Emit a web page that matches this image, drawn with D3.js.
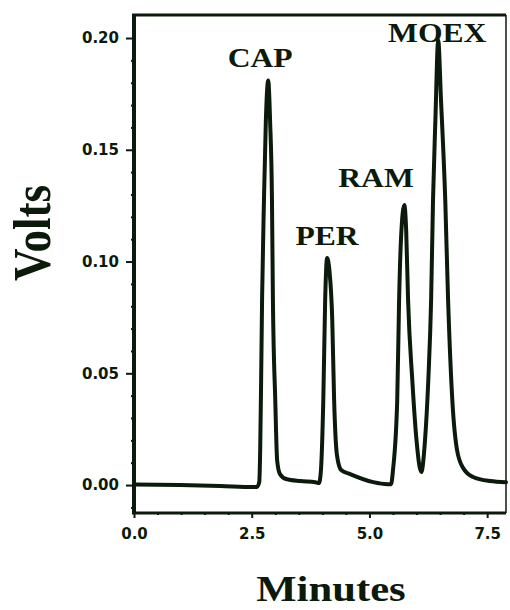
<!DOCTYPE html>
<html>
<head>
<meta charset="utf-8">
<script src="https://cdn.jsdelivr.net/npm/d3@7"></script>
<style>
  body { margin: 0; background: #fff; }
  .tick text { font-family: "DejaVu Sans", sans-serif; font-weight: bold; font-size: 15px; fill: #0b1a0b; }
  .tick line { stroke: #0b1a0b; stroke-width: 2; }
  .lbl { font-family: "Liberation Serif", "Times New Roman", serif; font-weight: bold; fill: #0b1a0b; }
</style>
</head>
<body>
<svg width="510" height="610"></svg>
<script>
// chromatogram trace (minutes, volts)
var times = [0.00, 0.98, 1.83, 2.53, 2.61, 2.66, 2.68, 2.70, 2.72, 2.76, 2.80, 2.85, 2.89, 2.93, 2.95, 3.00, 3.04, 3.10, 3.23, 3.53, 3.85,
             3.93, 3.97, 4.02, 4.06, 4.10, 4.15, 4.21, 4.25, 4.31, 4.40, 4.59, 5.08, 5.38,
             5.46, 5.50, 5.59, 5.63, 5.67, 5.74, 5.78, 5.82, 5.91, 6.00, 6.10,
             6.18, 6.25, 6.31, 6.35, 6.40, 6.46, 6.52, 6.61, 6.67, 6.76, 6.86, 6.99, 7.20, 7.56, 7.90];
var volts = [0.0002, 0.0000, -0.0004, -0.0009, -0.0009, 0.0013, 0.016, 0.047, 0.083, 0.1275, 0.163, 0.181, 0.163, 0.1275, 0.083, 0.038, 0.011, 0.0049, 0.0027, 0.0018, 0.0013,
             0.0009, 0.0067, 0.038, 0.083, 0.1016, 0.096, 0.074, 0.038, 0.0134, 0.0067, 0.0049, 0.0013, 0.0004,
             0.0004, 0.0067, 0.038, 0.083, 0.110, 0.1253, 0.114, 0.083, 0.047, 0.020, 0.0058,
             0.020, 0.047, 0.083, 0.1275, 0.163, 0.199, 0.172, 0.1275, 0.083, 0.038, 0.0157, 0.0076, 0.0036, 0.0018, 0.0013];

var peakNames = ["CAP", "PER", "RAM", "MOEX"];
var labelTimes = [2.68, 4.10, 5.14, 6.44];
var labelVolts = [0.187, 0.1074, 0.1333, 0.1982];

var yMajor = [0.00, 0.05, 0.10, 0.15, 0.20];
var yMinor = [-0.01, 0.01, 0.02, 0.03, 0.04, 0.06, 0.07, 0.08, 0.09, 0.11, 0.12, 0.13, 0.14, 0.16, 0.17, 0.18, 0.19];
var xMajor = [0.0, 2.5, 5.0, 7.5];
var xMinor = [0.5, 1.0, 1.5, 2.0, 3.0, 3.5, 4.0, 4.5, 5.5, 6.0, 6.5, 7.0];

var svg = d3.select("svg"),
    ink = "#0b1a0b";

var x = d3.scaleLinear().domain([0, 7.9]).range([134, 506]);
var y = d3.scaleLinear().domain([-0.0125, 0.2103]).range([513, 15]);

// axes
svg.append("g")
    .attr("transform", "translate(134,0)")
    .call(d3.axisLeft(y).tickValues(yMinor).tickSize(3).tickFormat(""))
    .call(function(g) { g.select(".domain").remove(); });
svg.append("g")
    .attr("transform", "translate(134,0)")
    .call(d3.axisLeft(y).tickValues(yMajor).tickSize(8).tickPadding(7).tickFormat(d3.format(".2f")))
    .call(function(g) { g.select(".domain").remove(); });

svg.append("g")
    .attr("transform", "translate(0,513)")
    .call(d3.axisBottom(x).tickValues(xMinor).tickSize(2).tickFormat(""))
    .call(function(g) { g.select(".domain").remove(); });
svg.append("g")
    .attr("transform", "translate(0,513)")
    .call(d3.axisBottom(x).tickValues(xMajor).tickSize(5).tickPadding(10).tickFormat(d3.format(".1f")))
    .call(function(g) { g.select(".domain").remove(); });

// frame
var frame = [
  [134, 15, 134, 513, 4],
  [132, 513, 506, 513, 3],
  [132, 15, 506, 15, 3],
  [506, 15, 506, 513, 1.5]
];
svg.append("g").selectAll("line")
    .data(frame)
  .enter().append("line")
    .attr("x1", function(d) { return d[0]; })
    .attr("y1", function(d) { return d[1]; })
    .attr("x2", function(d) { return d[2]; })
    .attr("y2", function(d) { return d[3]; })
    .attr("stroke", ink)
    .attr("stroke-width", function(d) { return d[4]; });

// trace
var line = d3.line()
    .x(function(d, i) { return x(times[i]); })
    .y(function(d) { return y(d); })
    .curve(d3.curveMonotoneX);

svg.append("path")
    .datum(volts)
    .attr("d", line)
    .attr("fill", "none")
    .attr("stroke", ink)
    .attr("stroke-width", 4)
    .attr("stroke-linejoin", "round")
    .attr("stroke-linecap", "round");

// peak names
svg.append("g").selectAll("text")
    .data(peakNames)
  .enter().append("text")
    .attr("class", "lbl")
    .attr("transform", function(d, i) {
      return "translate(" + x(labelTimes[i]) + "," + y(labelVolts[i]) + ") scale(1.13,1)";
    })
    .attr("text-anchor", "middle")
    .style("font-size", "28px")
    .text(function(d) { return d; });

// axis titles
svg.append("text")
    .attr("class", "lbl")
    .attr("transform", "translate(331,601) scale(1.22,1)")
    .attr("text-anchor", "middle")
    .style("font-size", "35px")
    .text("Minutes");

svg.append("text")
    .attr("class", "lbl")
    .attr("transform", "translate(50,233) rotate(-90) scale(1,1.17)")
    .attr("text-anchor", "middle")
    .style("font-size", "45px")
    .text("Volts");
</script>
</body>
</html>
